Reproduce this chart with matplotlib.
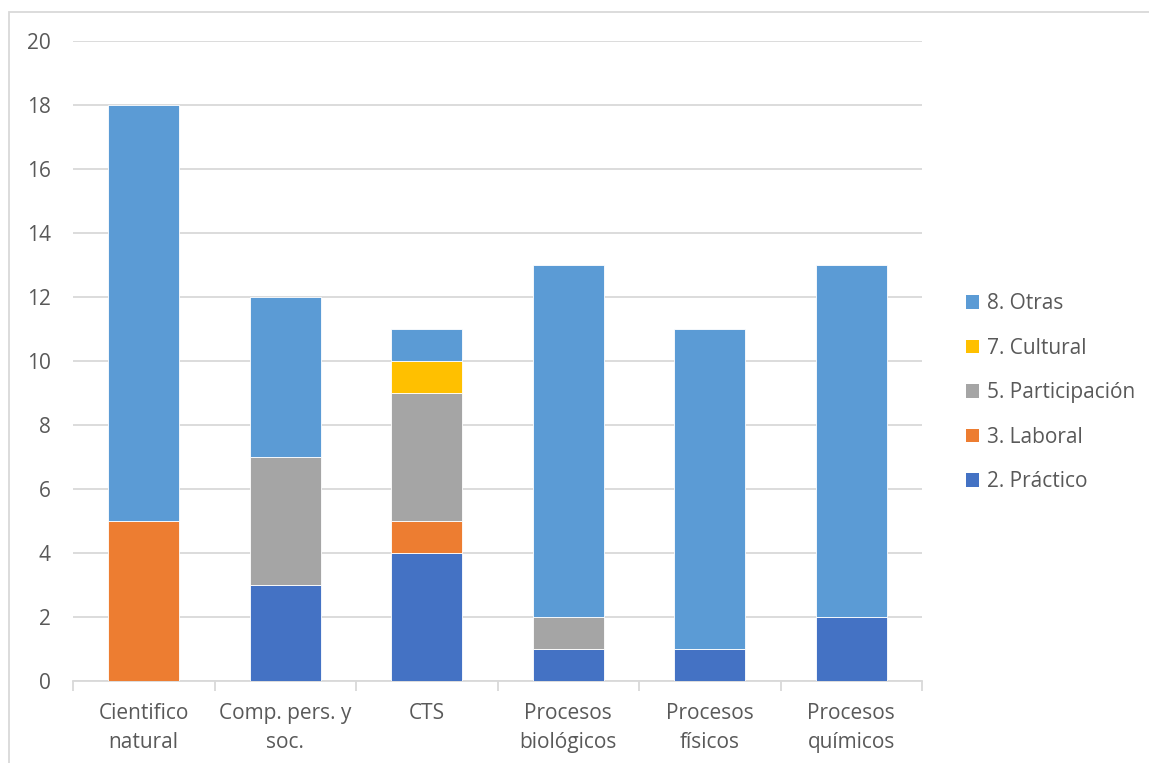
import matplotlib
matplotlib.use("Agg")
import matplotlib.pyplot as plt
from matplotlib.patches import Rectangle, Patch
import numpy as np

categories = ["Cientifico\nnatural", "Comp. pers. y\nsoc.", "CTS",
              "Procesos\nbiológicos", "Procesos\nfísicos", "Procesos\nquímicos"]
practico = [0, 3, 4, 1, 1, 2]
laboral = [5, 0, 1, 0, 0, 0]
participacion = [0, 4, 4, 1, 0, 0]
cultural = [0, 0, 1, 0, 0, 0]
otras = [13, 5, 1, 11, 10, 11]

series = [
    ("2. Práctico", practico, "#4472C4"),
    ("3. Laboral", laboral, "#ED7D31"),
    ("5. Participación", participacion, "#A5A5A5"),
    ("7. Cultural", cultural, "#FFC000"),
    ("8. Otras", otras, "#5B9BD5"),
]
yticks = [0, 2, 4, 6, 8, 10, 12, 14, 16, 18, 20]

plt.rcParams["font.family"] = ["Open Sans", "DejaVu Sans"]
text_color = "#595959"
grid_color = "#D9D9D9"
fs = 15

W, H = 1149, 763
fig = plt.figure(figsize=(W / 100, H / 100), dpi=100)
ax = fig.add_axes([73 / W, 82 / H, (922 - 73) / W, (681 - 41) / H])

x = np.arange(len(categories))
bottom = np.zeros(len(categories))
for name, vals, color in series:
    vals = np.array(vals, dtype=float)
    ax.bar(x, vals, width=0.5, bottom=bottom, color=color,
           edgecolor="white", linewidth=0.6, zorder=3, label=name)
    bottom += vals

ax.set_xlim(-0.5, len(categories) - 0.5)
ax.set_ylim(0, 20)
ax.set_yticks(yticks)
ax.set_yticklabels([str(t) for t in yticks])
ax.yaxis.grid(True, color=grid_color, linewidth=1.3, zorder=0)
ax.set_axisbelow(True)

for side in ("top", "right", "left"):
    ax.spines[side].set_visible(False)
ax.spines["bottom"].set_color(grid_color)
ax.spines["bottom"].set_linewidth(1.3)

ax.set_xticks(x)
ax.set_xticklabels(categories, fontsize=fs, color=text_color, linespacing=1.5)
ax.tick_params(axis="x", length=0, pad=16)
ax.set_xticks(np.arange(-0.5, len(categories)), minor=True)
ax.tick_params(axis="x", which="minor", length=7, width=1.3, color=grid_color)
ax.tick_params(axis="y", length=0, pad=16, labelsize=fs, labelcolor=text_color)

handles = [Patch(facecolor=c, edgecolor="none", label=n) for n, _, c in series][::-1]
fig.legend(handles=handles, loc="upper left", bbox_to_anchor=(958 / W, 1 - 285 / H),
           frameon=False, fontsize=fs, labelcolor=text_color,
           handlelength=0.62, handleheight=0.62, handletextpad=0.35,
           labelspacing=1.13, borderaxespad=0)

# chart frame
fig.patches.append(Rectangle((9 / W, -0.1), 1.2, 1 - 12 / H + 0.1,
                             transform=fig.transFigure, fill=False,
                             edgecolor=grid_color, linewidth=1.3))

fig.savefig("out.png", dpi=100)
